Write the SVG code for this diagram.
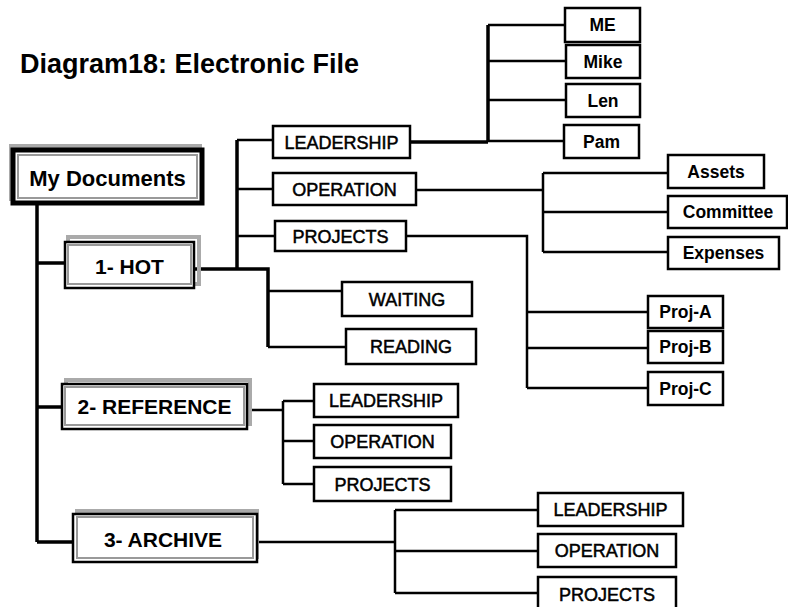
<svg xmlns="http://www.w3.org/2000/svg" width="788" height="607" viewBox="0 0 788 607">
<style>
text{font-family:"Liberation Sans",Arial,sans-serif;text-anchor:middle;fill:#000}
.t{font-size:18px;stroke:#000;stroke-width:0.5}
.n{font-size:17.5px;font-weight:bold}
.m{font-size:21px;font-weight:bold}
.box{fill:#fff;stroke:#000;stroke-width:2.5}
.sh{fill:none;stroke:#aaa;stroke-width:4}
.in{fill:none;stroke:#999;stroke-width:2}
.c{fill:none;stroke:#000;stroke-width:2.5}
.ct{fill:none;stroke:#000;stroke-width:3.5}
</style>
<rect width="788" height="607" fill="#fff"/>
<text x="20" y="73" style="font-size:27px;font-weight:bold;text-anchor:start">Diagram18: Electronic File</text>
<g id="connectors">
<path class="ct" d="M37,203 V542 M37,263 H65 M37,407 H62 M37,542 H73"/>
<path class="ct" d="M194,269 H268 V347 M237,269 V140"/>
<path class="c" d="M237,140 H273 M237,189 H273 M237,236 H275 M268,291 H342 M268,347 H346"/>
<path class="ct" d="M410,142 H488 M488,25 V142"/>
<path class="c" d="M488,25 H565 M488,61 H566 M488,100 H566 M488,141 H564"/>
<path class="c" d="M416,190 H543 M543,173 V252 M543,173 H668 M543,212 H668 M543,252 H668"/>
<path class="c" d="M406,236 H527 V388 M527,312 H648 M527,348 H648 M527,388 H648"/>
<path class="c" d="M247,410 H283 M283,401 V484 M283,401 H314 M283,441 H314 M283,484 H314"/>
<path class="c" d="M257,542 H395 M395,510 V593 M395,510 H538 M395,551 H538 M395,593 H538"/>
</g>
<g id="mydocs">
<rect class="sh" x="11" y="146" width="189" height="53"/>
<rect x="13" y="150" width="189" height="53" fill="#fff" stroke="#000" stroke-width="5"/>
<rect class="in" x="18" y="155" width="179" height="43"/>
<text class="m" x="107.5" y="186" style="font-size:22px">My Documents</text>
</g>
<g id="hot">
<rect class="sh" x="68" y="237" width="131" height="47"/>
<rect class="box" x="65" y="242" width="129" height="46"/>
<rect class="in" x="68" y="245" width="123" height="39"/>
<text class="m" x="129.5" y="274">1- HOT</text>
</g>
<g id="reference">
<rect class="sh" x="66" y="380" width="184" height="44"/>
<rect class="box" x="62" y="384" width="185" height="45"/>
<rect class="in" x="65" y="387" width="179" height="38"/>
<text class="m" x="154.5" y="414">2- REFERENCE</text>
</g>
<g id="archive">
<rect class="sh" x="77" y="511" width="180" height="46"/>
<rect class="box" x="73" y="514" width="184" height="48" stroke-width="3"/>
<rect class="in" x="77" y="517" width="176" height="41"/>
<text class="m" x="163" y="547">3- ARCHIVE</text>
</g>
<g id="hot-leadership"><rect class="box" x="273" y="126" width="137" height="32"/><text class="t" x="341.5" y="148.5">LEADERSHIP</text></g>
<g id="hot-operation"><rect class="box" x="273" y="173" width="143" height="32"/><text class="t" x="344.5" y="195.5">OPERATION</text></g>
<g id="hot-projects"><rect class="box" x="275" y="221" width="131" height="30"/><text class="t" x="340.5" y="242.5">PROJECTS</text></g>
<g id="me"><rect class="box" x="565" y="8" width="75" height="34"/><text class="n" x="602.5" y="31">ME</text></g>
<g id="mike"><rect class="box" x="566" y="45" width="74" height="33"/><text class="n" x="603" y="67.5">Mike</text></g>
<g id="len"><rect class="box" x="566" y="84" width="74" height="33"/><text class="n" x="603" y="106.5">Len</text></g>
<g id="pam"><rect class="box" x="564" y="125" width="75" height="33"/><text class="n" x="601.5" y="147.5">Pam</text></g>
<g id="assets"><rect class="box" x="668" y="155" width="96" height="33"/><text class="n" x="716" y="177.5">Assets</text></g>
<g id="committee"><rect class="box" x="668" y="196" width="119" height="32"/><text class="n" x="728" y="218">Committee</text></g>
<g id="expenses"><rect class="box" x="668" y="237" width="111" height="32"/><text class="n" x="723.5" y="259">Expenses</text></g>
<g id="proj-a"><rect class="box" x="648" y="296" width="75" height="32"/><text class="n" x="685.5" y="318">Proj-A</text></g>
<g id="proj-b"><rect class="box" x="648" y="331" width="75" height="32"/><text class="n" x="685.5" y="353">Proj-B</text></g>
<g id="proj-c"><rect class="box" x="648" y="372" width="75" height="33"/><text class="n" x="685.5" y="394.5">Proj-C</text></g>
<g id="waiting"><rect class="box" x="342" y="282" width="130" height="34"/><text class="t" x="407" y="305.5">WAITING</text></g>
<g id="reading"><rect class="box" x="346" y="329" width="130" height="35"/><text class="t" x="411" y="353">READING</text></g>
<g id="ref-leadership"><rect class="box" x="314" y="384" width="144" height="33"/><text class="t" x="386" y="407">LEADERSHIP</text></g>
<g id="ref-operation"><rect class="box" x="314" y="425" width="137" height="33"/><text class="t" x="382.5" y="448">OPERATION</text></g>
<g id="ref-projects"><rect class="box" x="314" y="467" width="137" height="34"/><text class="t" x="382.5" y="490.5">PROJECTS</text></g>
<g id="arc-leadership"><rect class="box" x="538" y="493" width="145" height="33"/><text class="t" x="610.5" y="516">LEADERSHIP</text></g>
<g id="arc-operation"><rect class="box" x="538" y="534" width="138" height="33"/><text class="t" x="607" y="557">OPERATION</text></g>
<g id="arc-projects"><rect class="box" x="538" y="577" width="138" height="35"/><text class="t" x="607" y="600.5">PROJECTS</text></g>
</svg>
